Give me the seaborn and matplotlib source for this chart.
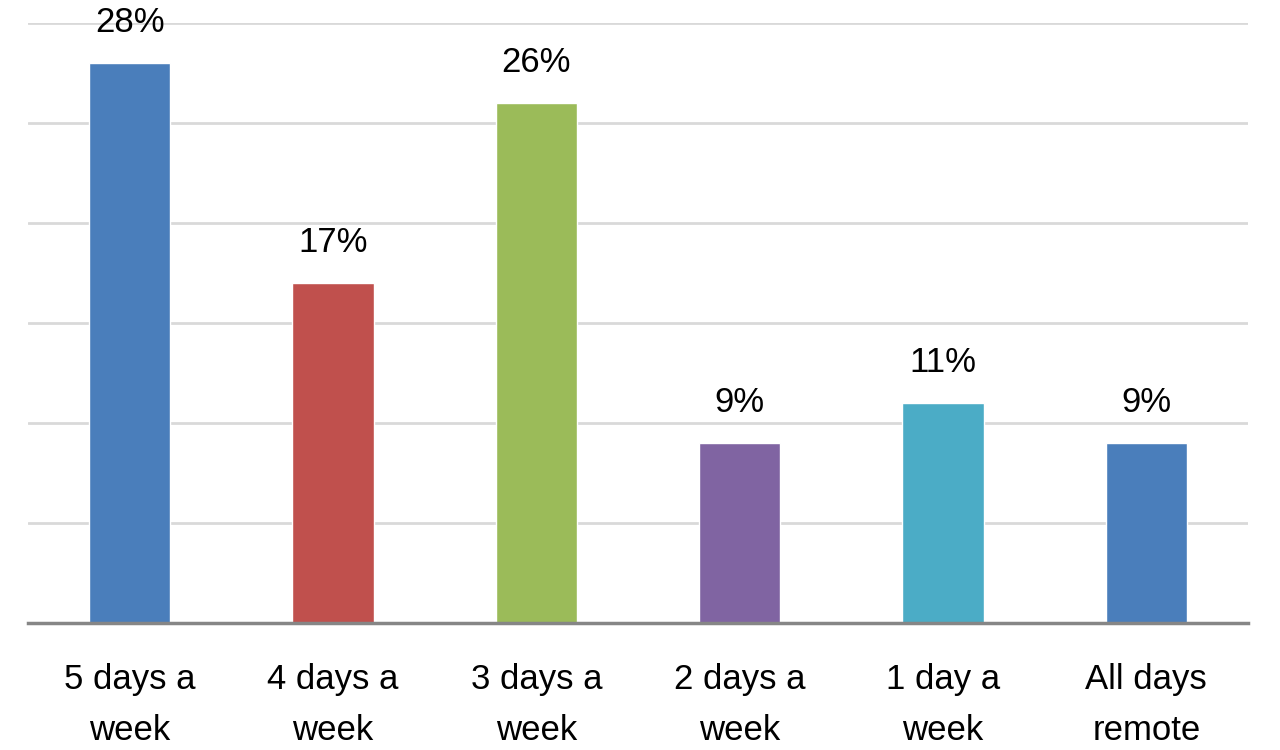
import matplotlib
matplotlib.use("Agg")
import matplotlib.pyplot as plt
import seaborn as sns
import pandas as pd

categories = ["5 days a\nweek", "4 days a\nweek", "3 days a\nweek", "2 days a\nweek", "1 day a\nweek", "All days\nremote"]
values = [28, 17, 26, 9, 11, 9]
colors = ["#4A7EBB", "#C0504D", "#9BBB59", "#8064A2", "#4BACC6", "#4A7EBB"]

sns.set_theme(style="white")
plt.rcParams['font.family'] = ['Liberation Sans', 'DejaVu Sans']

df = pd.DataFrame({"cat": categories, "val": values})

fig = plt.figure(figsize=(12.8, 7.5), dpi=100)
ax = fig.add_axes([0.022, 0.1693, 0.953, 0.8])

sns.barplot(data=df, x="cat", y="val", hue="cat", palette=colors, legend=False,
            width=0.40, saturation=1, ax=ax, zorder=3)

ax.set_ylim(0, 30)
ax.set_xlim(-0.5, len(categories) - 0.5)
ax.set_yticks([0, 5, 10, 15, 20, 25, 30])
ax.yaxis.grid(True, color="#D9D9D9", linewidth=2, zorder=0)
ax.set_axisbelow(True)
ax.set_yticklabels([])
ax.tick_params(axis="y", length=0)
ax.tick_params(axis="x", length=0, pad=29, labelsize=25, labelcolor="#000000")
for lbl in ax.get_xticklabels():
    lbl.set_linespacing(1.68)
ax.set_xlabel("")
ax.set_ylabel("")
for s in ["left", "right", "top"]:
    ax.spines[s].set_visible(False)
ax.spines["bottom"].set_color("#868686")
ax.spines["bottom"].set_linewidth(2.5)
ax.spines["bottom"].set_zorder(4)

for i, v in enumerate(values):
    ax.annotate(f"{v}%", xy=(i, v), xytext=(0, 17), textcoords="offset points",
                ha="center", va="bottom", fontsize=25, color="#000000", clip_on=False)

fig.savefig("out.png", dpi=100)
